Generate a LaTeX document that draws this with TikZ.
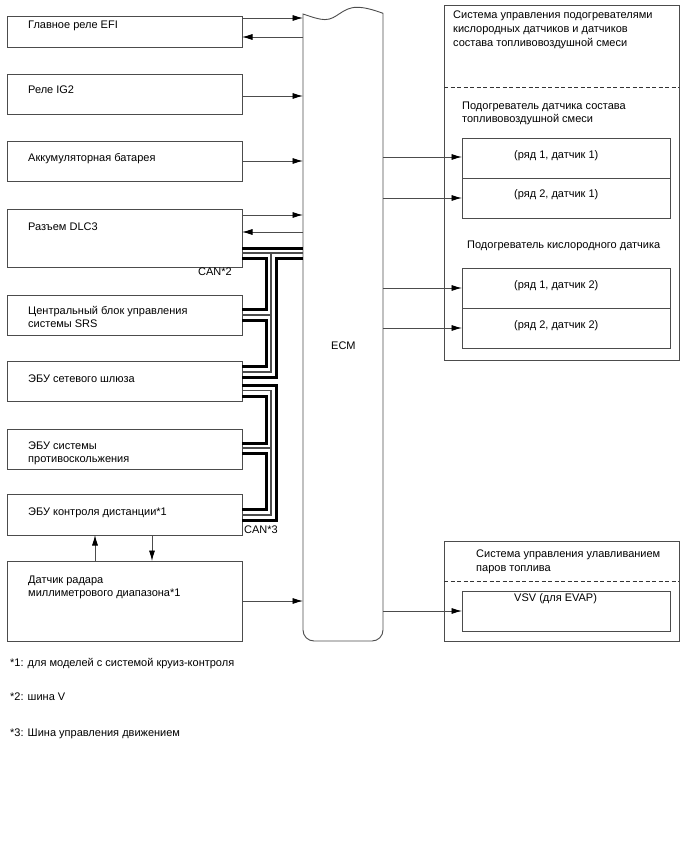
\documentclass[tikz,border=0pt]{standalone}
\usepackage{fontspec}
\setmainfont{Liberation Sans}
\usetikzlibrary{arrows.meta}
\definecolor{ln}{gray}{0.3}
\tikzset{
 x=1pt,y=-1pt,
 box/.style={draw=ln,line width=0.9pt,anchor=north west,inner sep=0pt,outer sep=0pt},
 txt/.style={anchor=west,inner sep=0pt,font=\fontsize{11}{12}\selectfont,text height=7.5pt,text depth=2pt,yshift=-1.6pt},
 arr/.style={draw=ln,line width=0.8pt,-{Latex[length=10.5pt,width=6pt,black]}},
 thick bus/.style={draw=black,line width=3pt,miter limit=10},
 thin bus/.style={draw=black!70,line width=1.2pt},
 dash line/.style={draw=black!80,line width=0.7pt,dash pattern=on 4pt off 2.5pt}
}
\newcommand{\bx}[5]{\node[box,minimum width=#4pt,minimum height=#5pt] (#1) at (#2,#3) {};}
\newcommand{\lb}[4]{\node[txt] (#1) at (#2,#3) {#4};}
\begin{document}
\begin{tikzpicture}
\useasboundingbox (0,0) rectangle (688,852);
% left boxes
\bx{main}{7}{16}{235}{31}
\bx{ig}{7}{74}{235}{40}
\bx{bat}{7}{141}{235}{40}
\bx{dlc}{7}{209}{235}{58}
\bx{srs}{7}{295}{235}{40}
\bx{gw}{7}{361}{235}{40}
\bx{anti}{7}{429}{235}{40}
\bx{dist}{7}{494}{235}{41}
\bx{radar}{7}{561}{235}{80}
% ECM
\coordinate (ecmW) at (303,0);
\coordinate (ecmE) at (383,0);
\draw[ln,line width=0.9pt] (303,14) .. controls (312,17) and (319,19.6) .. (325,19.6)
  .. controls (337,19.6) and (342,7.3) .. (357,7.3) .. controls (366,7.3) and (375,10.5) .. (383,13.3)
  -- (383,630) arc[start angle=0,end angle=90,radius=11] -- (314,641)
  arc[start angle=90,end angle=180,radius=11] -- cycle;
\lb{ecm}{331}{345}{ECM}
% right boxes
\bx{heat}{444}{5}{235}{355}
\bx{afa}{462}{138}{208}{40}
\bx{afb}{462}{178}{208}{40}
\bx{oa}{462}{268}{208}{40}
\bx{ob}{462}{308}{208}{40}
\bx{evap}{444}{541}{235}{100}
\bx{vsv}{462}{591}{208}{40}
\draw[dash line] (heat.west|-0,87) -- (heat.east|-0,87);
\draw[dash line] (evap.west|-0,581) -- (evap.east|-0,581);
% arrows
\draw[arr] (main.east|-0,18) -- (ecmW|-0,18);
\draw[arr] (ecmW|-0,37) -- (main.east|-0,37);
\draw[arr] (ig.east|-0,96) -- (ecmW|-0,96);
\draw[arr] (bat.east|-0,161) -- (ecmW|-0,161);
\draw[arr] (dlc.east|-0,215) -- (ecmW|-0,215);
\draw[arr] (ecmW|-0,232) -- (dlc.east|-0,232);
\draw[arr] (radar.east|-0,601) -- (ecmW|-0,601);
\draw[arr] (radar.north-|95,0) -- (dist.south-|95,0);
\draw[arr] (dist.south-|152,0) -- (radar.north-|152,0);
\draw[arr] (ecmE|-0,157) -- (afa.west|-0,157);
\draw[arr] (ecmE|-0,198) -- (afb.west|-0,198);
\draw[arr] (ecmE|-0,288) -- (oa.west|-0,288);
\draw[arr] (ecmE|-0,328) -- (ob.west|-0,328);
\draw[arr] (ecmE|-0,611) -- (vsv.west|-0,611);
% CAN buses
\draw[thick bus] (dlc.east|-0,248) -- (ecmW|-0,248);
\draw[thin bus] (dlc.east|-0,253) -- (ecmW|-0,253);
\draw[thick bus] (ecmW|-0,258.5) -- (276,258.5) -- (276,377.5) -- (gw.east|-0,377.5);
\draw[thin bus] (271,253) -- (271,372) -- (gw.east|-0,372);
\draw[thick bus] (dlc.east|-0,258.5) -- (266,258.5) -- (266,309) -- (srs.east|-0,309);
\draw[thin bus] (271,315) -- (srs.east|-0,315);
\draw[thick bus] (srs.east|-0,320) -- (266,320) -- (266,366) -- (gw.east|-0,366);
\draw[thick bus] (gw.east|-0,385) -- (276,385) -- (276,520) -- (dist.east|-0,520);
\draw[thin bus] (gw.east|-0,390.5) -- (271,390.5) -- (271,515) -- (dist.east|-0,515);
\draw[thick bus] (gw.east|-0,396) -- (266,396) -- (266,443) -- (anti.east|-0,443);
\draw[thin bus] (271,448) -- (anti.east|-0,448);
\draw[thick bus] (anti.east|-0,453) -- (266,453) -- (266,509) -- (dist.east|-0,509);
% labels
\lb{t1}{28}{24}{Главное реле EFI}
\lb{t2}{28}{89}{Реле IG2}
\lb{t3}{28}{157}{Аккумуляторная батарея}
\lb{t4}{28}{226}{Разъем DLC3}
\lb{t5}{198}{271}{CAN*2}
\lb{t6}{28}{310}{Центральный блок управления}
\lb{t7}{28}{323}{системы SRS}
\lb{t8}{28}{378}{ЭБУ сетевого шлюза}
\lb{t9}{28}{445}{ЭБУ системы}
\lb{t10}{28}{458}{противоскольжения}
\lb{t11}{28}{511}{ЭБУ контроля дистанции*1}
\lb{t12}{244}{529}{CAN*3}
\lb{t13}{28}{579}{Датчик радара}
\lb{t14}{28}{592}{миллиметрового диапазона*1}
\lb{t15}{453}{14}{Система управления подогревателями}
\lb{t16}{453}{28}{кислородных датчиков и датчиков}
\lb{t17}{453}{42}{состава топливовоздушной смеси}
\lb{t18}{462}{105}{Подогреватель датчика состава}
\lb{t19}{462}{118}{топливовоздушной смеси}
\lb{t20}{514}{154}{(ряд 1, датчик 1)}
\lb{t21}{514}{193}{(ряд 2, датчик 1)}
\lb{t22}{467}{244}{Подогреватель кислородного датчика}
\lb{t23}{514}{284}{(ряд 1, датчик 2)}
\lb{t24}{514}{324}{(ряд 2, датчик 2)}
\lb{t25}{476}{553}{Система управления улавливанием}
\lb{t26}{476}{567}{паров топлива}
\lb{t27}{514}{597}{VSV (для EVAP)}
\lb{t28}{10}{662}{*1: для моделей с системой круиз-контроля}
\lb{t29}{10}{696}{*2: шина V}
\lb{t30}{10}{732}{*3: Шина управления движением}
\end{tikzpicture}
\end{document}
